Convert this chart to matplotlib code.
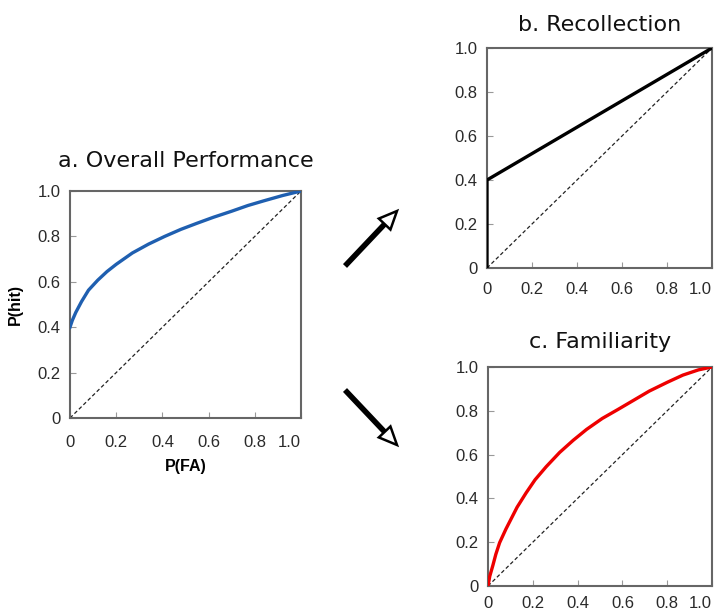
import numpy as np
import matplotlib.pyplot as plt
from matplotlib.patches import Polygon
from matplotlib.lines import Line2D

# values
ticks = [0, 0.2, 0.4, 0.6, 0.8, 1.0]
tick_labels = ["0", "0.2", "0.4", "0.6", "0.8", "1.0"]

fa_overall = [0, 0.01, 0.025, 0.05, 0.08, 0.12, 0.16, 0.2, 0.27, 0.34, 0.41, 0.48, 0.55, 0.62, 0.7, 0.77, 0.84, 0.92, 1.0]
hit_overall = [0.40, 0.43, 0.465, 0.513, 0.563, 0.607, 0.645, 0.677, 0.727, 0.766, 0.800, 0.831, 0.858, 0.884, 0.911, 0.936, 0.957, 0.98, 1.0]

fa_recoll = [0, 0, 1.0]
hit_recoll = [0, 0.40, 1.0]

fa_famil = [0, 0.008, 0.022, 0.035, 0.052, 0.08, 0.105, 0.13, 0.17, 0.21, 0.26, 0.32, 0.38, 0.44, 0.51, 0.58, 0.65, 0.72, 0.8, 0.87, 0.94, 1.0]
hit_famil = [0, 0.045, 0.095, 0.145, 0.198, 0.26, 0.31, 0.36, 0.425, 0.485, 0.545, 0.61, 0.665, 0.715, 0.765, 0.806, 0.848, 0.89, 0.93, 0.963, 0.987, 1.0]

W, H = 714, 616
fig = plt.figure(figsize=(W / 100, H / 100), dpi=100)
plt.rcParams['font.family'] = ['Liberation Sans', 'DejaVu Sans']


def px_axes(x0, y0, x1, y1):
    return fig.add_axes([x0 / W, 1 - y1 / H, (x1 - x0) / W, (y1 - y0) / H])


def style(ax, title, title_y, xpad):
    ax.plot([0, 1], [0, 1], color='#222222', lw=0.9, ls=(0, (3, 2)))
    ax.set_xlim(0, 1)
    ax.set_ylim(0, 1)
    ax.set_xticks(ticks)
    ax.set_yticks(ticks)
    ax.set_xticklabels(tick_labels)
    ax.set_yticklabels(tick_labels)
    ax.tick_params(direction='in', length=4, color='#999999', labelsize=12,
                   labelcolor='#2a2a2a')
    ax.tick_params(axis='x', pad=xpad)
    ax.tick_params(axis='y', pad=7)
    ax.get_xticklabels()[-1].set_horizontalalignment('right')
    for s in ax.spines.values():
        s.set_color('#666666')
        s.set_linewidth(1.5)
    ax.set_title(title, fontsize=16, family='DejaVu Sans', pad=title_y, color='#111111')


ax_a = px_axes(70, 191, 301, 418)
ax_a.plot(fa_overall, hit_overall, color='#1f5fb0', lw=2.4, zorder=3)
style(ax_a, "a. Overall Performance", 17, 12)
ax_a.set_xlabel("P(FA)", fontweight='bold', fontsize=11.5, labelpad=7)
ax_a.set_ylabel("P(hit)", fontweight='bold', fontsize=11.5, labelpad=10)

ax_b = px_axes(487, 48, 712, 268)
ax_b.plot(fa_recoll, hit_recoll, color='black', lw=2.4, zorder=3)
style(ax_b, "b. Recollection", 12, 10)

ax_c = px_axes(488, 367, 712, 586)
ax_c.plot(fa_famil, hit_famil, color='#ee0000', lw=2.4, zorder=3)
style(ax_c, "c. Familiarity", 14, 7)

# arrows between the panels: thick shaft, open triangular head (pixel coords)
arrows = [((345, 266), (397, 211)), ((345, 390), (397, 445))]
head_len, head_half = 18, 8
for tail, tip in arrows:
    tail = np.array(tail, float)
    tip = np.array(tip, float)
    d = (tip - tail) / np.linalg.norm(tip - tail)
    n = np.array([-d[1], d[0]])
    base = tip - d * head_len
    tri = [tip, base + n * head_half, base - n * head_half]
    to_fig = lambda p: (p[0] / W, 1 - p[1] / H)
    fig.lines.append(Line2D([tail[0] / W, base[0] / W], [1 - tail[1] / H, 1 - base[1] / H],
                            transform=fig.transFigure, color='black', lw=4,
                            solid_capstyle='butt'))
    fig.patches.append(Polygon([to_fig(p) for p in tri], closed=True,
                               transform=fig.transFigure, fc='white', ec='black',
                               lw=1.8, joinstyle='miter'))

fig.savefig("out.png", dpi=100)
